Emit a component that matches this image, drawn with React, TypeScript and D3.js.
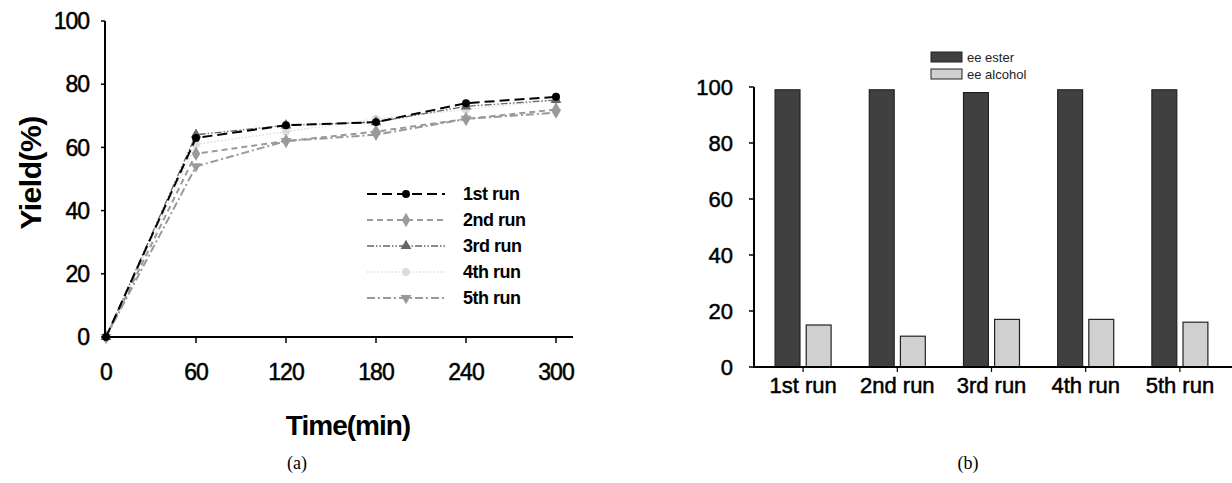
import * as d3 from 'd3';
import React from 'react';

// (a) yield vs time for five reuse runs
const times = [0, 60, 120, 180, 240, 300];
const run1 = [0, 63, 67, 68, 74, 76];
const run2 = [0, 58, 62, 65, 69, 72];
const run3 = [0, 64, 67, 68, 73, 75];
const run4 = [0, 61, 65, 69, 72, 75];
const run5 = [0, 54, 62, 64, 69, 71];
const runNames = ['1st run', '2nd run', '3rd run', '4th run', '5th run'];

// (b) enantiomeric excess per run
const eeEster = [99, 99, 98, 99, 99];
const eeAlcohol = [15, 11, 17, 17, 16];
const barSeries = ['ee ester', 'ee alcohol'];

const yTicks = [0, 20, 40, 60, 80, 100];

const FONT = '"Liberation Sans", Arial, sans-serif';

interface RunStyle {
  color: string,
  marker: string,
  dash: string,
  width: number
}

const runStyles: RunStyle[] = [
  {color: '#000', marker: 'circle', dash: '10,5', width: 2},
  {color: '#9a9a9a', marker: 'diamond', dash: '6,4', width: 2},
  {color: '#666', marker: 'triangle', dash: '7,2,1.5,2,1.5,2', width: 1.3},
  {color: '#dcdcdc', marker: 'circle', dash: '1.5,2', width: 1.5},
  {color: '#999', marker: 'down', dash: '8,3,2,3', width: 2},
];

const markerPath = (kind: string, size: number) => {
  const sym = kind === 'circle' ? d3.symbolCircle
    : kind === 'diamond' ? d3.symbolDiamond
    : d3.symbolTriangle;
  return d3.symbol().type(sym).size(size)() || '';
};

// blurred scan look: a thin stroke thickens the glyphs a little
const heavy = {stroke: '#000', strokeWidth: 0.5};

const LineChart: React.FC = () => {
  const x = d3.scaleLinear().domain([0, 300]).range([106, 556]);
  const y = d3.scaleLinear().domain([0, 100]).range([337, 21]);
  const runs = [run1, run2, run3, run4, run5];
  const line = d3.line<number>()
    .x((_, i) => x(times[i]))
    .y(d => y(d));

  const legendY = d3.scalePoint<string>().domain(runNames).range([194, 298]);

  return (
    <g>
      {runs.map((vals, k) => k).reverse().map(k => {
        const s = runStyles[k];
        const vals = runs[k];
        return (
          <g key={k}>
            <path d={line(vals) || ''} fill='none' stroke={s.color} strokeWidth={s.width}
              strokeDasharray={s.dash}/>
            {vals.map((v, i) => (
              <path key={i} d={markerPath(s.marker, s.marker === 'diamond' ? 60 : 50)}
                transform={`translate(${x(times[i])},${y(v)})${s.marker === 'down' ? ' rotate(180)' : ''}`}
                fill={s.color}/>
            ))}
          </g>
        );
      })}
      {/* axes */}
      <line x1={105} x2={105} y1={21} y2={338} stroke='#000' strokeWidth={2}/>
      <line x1={104} x2={573} y1={337} y2={337} stroke='#000' strokeWidth={2}/>
      {yTicks.map(t => (
        <g key={t}>
          <line x1={101} x2={105} y1={y(t)} y2={y(t)} stroke='#000' strokeWidth={1.5}/>
          <text x={89} y={y(t)} dy='0.36em' textAnchor='end' fontSize={23} fontFamily={FONT}
            letterSpacing={-1} {...heavy}>{t}</text>
        </g>
      ))}
      {times.map(t => (
        <g key={t}>
          {t > 0 && <line x1={x(t)} x2={x(t)} y1={337} y2={343} stroke='#000' strokeWidth={1.5}/>}
          <text x={x(t)} y={380} textAnchor='middle' fontSize={23} fontFamily={FONT}
            letterSpacing={-1} {...heavy}>{t}</text>
        </g>
      ))}
      <text transform='translate(41,173) rotate(-90)' textAnchor='middle' fontSize={30}
        fontWeight='bold' fontFamily={FONT} letterSpacing={-0.5}>Yield(%)</text>
      <text x={348} y={435} textAnchor='middle' fontSize={28} fontWeight='bold' fontFamily={FONT}
        letterSpacing={-1}>Time(min)</text>
      {/* legend */}
      {runNames.map((name, k) => {
        const s = runStyles[k];
        const ly = legendY(name) || 0;
        return (
          <g key={name}>
            <line x1={367} x2={445} y1={ly} y2={ly} stroke={s.color} strokeWidth={s.width}
              strokeDasharray={s.dash}/>
            <path d={markerPath(s.marker, s.marker === 'diamond' ? 60 : 50)}
              transform={`translate(406,${ly})${s.marker === 'down' ? ' rotate(180)' : ''}`}
              fill={s.color}/>
            <text x={463} y={ly} dy='0.36em' fontSize={18} fontWeight='bold' fontFamily={FONT}
              letterSpacing={-0.5}>{name}</text>
          </g>
        );
      })}
      <text x={297} y={469} textAnchor='middle' fontSize={18}
        fontFamily='"Liberation Serif", "Times New Roman", serif'>(a)</text>
    </g>
  );
};

const BarChart: React.FC = () => {
  const x = d3.scaleBand<string>().domain(runNames).range([756, 1227]);
  const y = d3.scaleLinear().domain([0, 100]).range([367, 87]);
  const inner = d3.scaleBand<string>().domain(barSeries).range([-28, 28]).paddingInner(0.2);
  const fills = ['#404040', '#d0d0d0'];
  const series = [eeEster, eeAlcohol];

  return (
    <g>
      {runNames.map((name, i) => {
        const cx = (x(name) || 0) + x.bandwidth() / 2;
        return (
          <g key={name}>
            {barSeries.map((sname, j) => (
              <rect key={sname} x={cx + (inner(sname) || 0)} width={inner.bandwidth()}
                y={y(series[j][i])} height={y(0) - y(series[j][i])}
                fill={fills[j]} stroke='#222' strokeWidth={1.2}/>
            ))}
            <line x1={cx} x2={cx} y1={367} y2={372} stroke='#000' strokeWidth={1.2}/>
            <text x={cx} y={393} textAnchor='middle' fontSize={22} fontFamily={FONT}
              {...heavy}>{name}</text>
          </g>
        );
      })}
      <line x1={754} x2={754} y1={87} y2={368} stroke='#000' strokeWidth={2}/>
      <line x1={753} x2={1232} y1={367} y2={367} stroke='#000' strokeWidth={2}/>
      {yTicks.map(t => (
        <g key={t}>
          <line x1={749} x2={754} y1={y(t)} y2={y(t)} stroke='#000' strokeWidth={1.5}/>
          <text x={733} y={y(t)} dy='0.36em' textAnchor='end' fontSize={22} fontFamily={FONT}
            {...heavy}>{t}</text>
        </g>
      ))}
      {barSeries.map((sname, j) => (
        <g key={sname}>
          <rect x={931} y={52 + j * 17} width={31} height={10} fill={fills[j]} stroke='#222'
            strokeWidth={1}/>
          <text x={967} y={57 + j * 17} dy='0.36em' fontSize={13} fontFamily={FONT}
            fill='#222'>{sname}</text>
        </g>
      ))}
      <text x={968} y={469} textAnchor='middle' fontSize={18}
        fontFamily='"Liberation Serif", "Times New Roman", serif'>(b)</text>
    </g>
  );
};

export default function App() {
  return (
    <svg width={1232} height={483} style={{position: 'absolute', left: 0, top: 0, background: '#fff'}}>
      <LineChart/>
      <BarChart/>
    </svg>
  );
}
